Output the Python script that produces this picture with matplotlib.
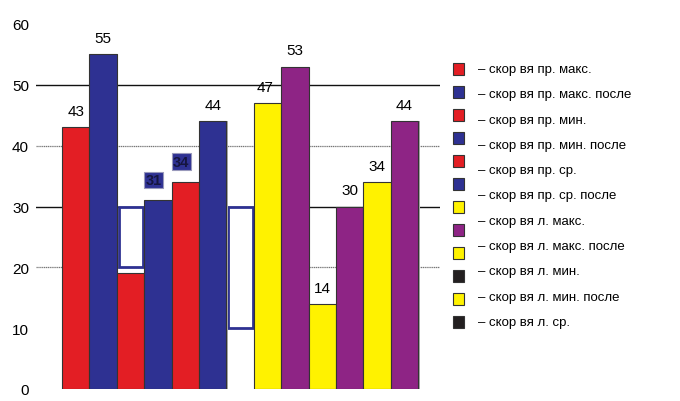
import matplotlib
matplotlib.use('Agg')
import matplotlib.pyplot as plt
from matplotlib.patches import Rectangle

plt.rcParams['font.family'] = ['Liberation Sans', 'DejaVu Sans']

RED = '#e31e24'
BLUE = '#2e3192'
YELLOW = '#fff200'
PURPLE = '#8e2485'
BLACK = '#231f20'

# bars, left to right (slot 6 is empty)
values = [43, 55, 19, 31, 34, 44, None, 47, 53, 14, 30, 34, 44]
colors = [RED, BLUE, RED, BLUE, RED, BLUE, None, YELLOW, PURPLE, YELLOW, PURPLE, YELLOW, PURPLE]
labels = ['43', '55', '', '31', '34', '44', '', '47', '53', '14', '30', '34', '44']

# hollow outline boxes: (slot, bottom, top)
boxes = [(2, 20, 30), (6, 10, 30)]

legend_texts = ['– скор вя пр. макс.', '– скор вя пр. макс. после', '– скор вя пр. мин.',
                '– скор вя пр. мин. после', '– скор вя пр. ср.', '– скор вя пр. ср. после',
                '– скор вя л. макс.', '– скор вя л. макс. после', '– скор вя л. мин.',
                '– скор вя л. мин. после', '– скор вя л. ср.']
legend_squares = [RED, BLUE, RED, BLUE, RED, BLUE, YELLOW, PURPLE, YELLOW, BLACK, YELLOW, BLACK]

fig = plt.figure(figsize=(6.8, 4.02), dpi=100)
ax = fig.add_axes([36 / 680, 1 - 390 / 402, (440 - 36) / 680, (390 - 25) / 402])

for y in [20, 40]:
    ax.axhline(y, color='#777777', lw=0.9, ls=(0, (1, 0.5)), zorder=0)
for y in [30, 50]:
    ax.axhline(y, color='#111111', lw=1.0, zorder=0)

for slot, b, t in boxes:
    ax.add_patch(Rectangle((slot + 0.07, b), 0.9, t - b, facecolor='white',
                           edgecolor=BLUE, lw=2, zorder=1))

for i, (v, c) in enumerate(zip(values, colors)):
    if v is None:
        continue
    ax.bar(i + 0.05, v, width=1, align='edge', color='#aaaaaa', lw=0, zorder=1.5)
    ax.bar(i, v, width=1, align='edge', color=c, edgecolor='#333333', lw=0.8, zorder=2)

for i, (v, lab) in enumerate(zip(values, labels)):
    if not lab:
        continue
    if lab in ('31', '34') and i < 6:
        ax.text(i + 0.35, v + 2.2, lab, ha='center', va='bottom', fontsize=10.5,
                color='#15153f', fontweight='bold',
                bbox=dict(boxstyle='square,pad=0.1', facecolor=BLUE, edgecolor='#9999bb', lw=0.8),
                zorder=3)
    elif i == 7:
        ax.text(i + 0.4, v + 1.5, lab, ha='center', va='bottom', fontsize=11, zorder=3)
    else:
        ax.text(i + 0.5, v + 1.5, lab, ha='center', va='bottom', fontsize=11, zorder=3)

ax.set_xlim(-26 / 27.4, (440 - 62) / 27.4)
ax.set_ylim(0, 60)
ax.set_yticks(range(0, 61, 10))
ax.set_xticks([])
ax.tick_params(axis='y', length=0, pad=5, labelsize=11)
for s in ax.spines.values():
    s.set_visible(False)

# legend drawn by hand
n_sq = len(legend_squares)
for k, c in enumerate(legend_squares):
    yc = 70 + k * (323 - 70) / (n_sq - 1)
    fig.patches.append(Rectangle((453 / 680, 1 - (yc + 6) / 402), 11 / 680, 12 / 402,
                                 transform=fig.transFigure, facecolor=c,
                                 edgecolor='#333333', lw=0.8))
n_tx = len(legend_texts)
for k, t in enumerate(legend_texts):
    yc = 70 + k * (323 - 70) / (n_tx - 1)
    fig.text(478 / 680, 1 - yc / 402, t, ha='left', va='center', fontsize=9.5)

fig.savefig('out.png', dpi=100)
